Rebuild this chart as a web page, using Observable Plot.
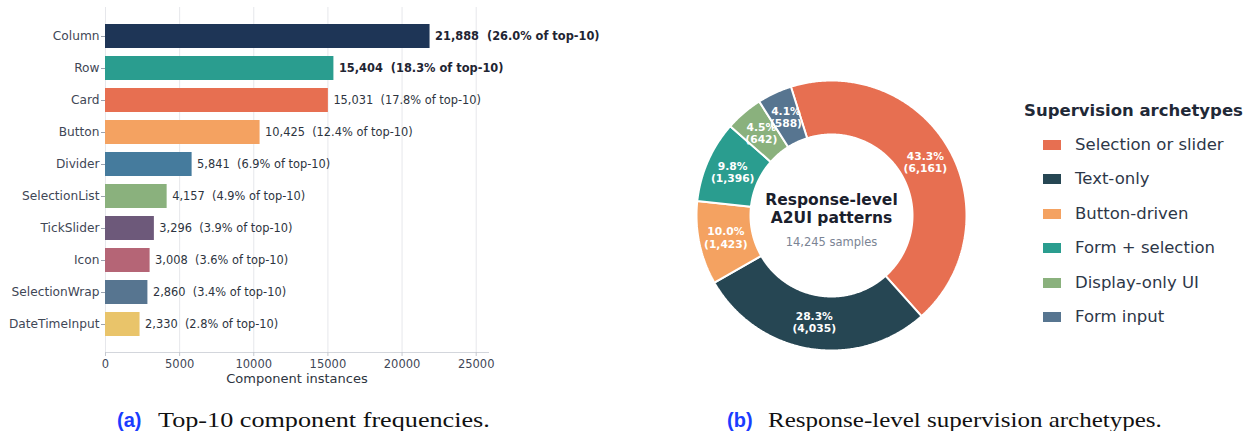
<!DOCTYPE html>
<html><head><meta charset="utf-8">
<script src="https://cdn.jsdelivr.net/npm/d3@7"></script>
<script src="https://cdn.jsdelivr.net/npm/@observablehq/plot@0.6"></script>
<style>
body{margin:0;background:#fff;}
#root{position:relative;width:1246px;height:431px;overflow:hidden;background:#fff;font-family:"DejaVu Sans",sans-serif;}
.abs{position:absolute;}
.legtitle{font-weight:bold;font-size:16.5px;color:#1f2937;white-space:nowrap;line-height:20px;}
.legitem{font-size:16.5px;color:#2d3748;white-space:nowrap;line-height:20px;}
.sw{position:absolute;width:18px;height:10px;}
.capl{font-family:"Liberation Sans",sans-serif;font-weight:bold;font-size:20px;color:#1a3cff;line-height:22px;white-space:nowrap;}
.capt{font-family:"Liberation Serif",serif;font-size:22px;color:#111;line-height:22px;white-space:nowrap;transform-origin:0 0;}
</style></head><body><div id="root"></div>
<script>
// ---- Data: (a) top-10 components ----
const components = ["Column","Row","Card","Button","Divider","SelectionList","TickSlider","Icon","SelectionWrap","DateTimeInput"];
const counts = [21888,15404,15031,10425,5841,4157,3296,3008,2860,2330];
const shares = [26.0,18.3,17.8,12.4,6.9,4.9,3.9,3.6,3.4,2.8];
const barColors = ["#1e3556","#2a9d8f","#e76f51","#f4a261","#457b9d","#8ab17d","#6d597a","#b56576","#577590","#e9c46a"];
const xTicks = [0,5000,10000,15000,20000,25000];
const boldCount = 2;

// ---- Data: (b) supervision archetypes ----
const archetypes = ["Selection or slider","Text-only","Button-driven","Form + selection","Display-only UI","Form input"];
const archCounts = [6161,4035,1423,1396,642,588];
const archShares = [43.3,28.3,10.0,9.8,4.5,4.1];
const archColors = ["#e76f51","#264653","#f4a261","#2a9d8f","#8ab17d","#577590"];
const centerTitle = "Response-level\nA2UI patterns";
const centerSub = "14,245 samples";
const legendTitle = "Supervision archetypes";
const captions = [["(a)","Top-10 component frequencies."],["(b)","Response-level supervision archetypes."]];

const root = document.getElementById("root");
const fmt = d3.format(",");

// ---------- (a) bar chart ----------
const rows = components.map((name,i)=>({name, count:counts[i], share:shares[i], bold:i<boldCount}));
const lab = d => `${fmt(d.count)} \u00a0(${d.share.toFixed(1)}% of top-10)`;
const bars = Plot.plot({
  width: 620, height: 392,
  marginLeft: 105, marginRight: 132, marginTop: 7, marginBottom: 40,
  style: {fontFamily: "DejaVu Sans", background: "transparent", overflow: "visible"},
  x: {domain: [0, 25830]},
  y: {domain: components, paddingInner: 0.25, paddingOuter: 0.48},
  color: {domain: components, range: barColors},
  marks: [
    Plot.gridX(xTicks, {stroke: "#e6e7eb", strokeOpacity: 1}),
    Plot.frame({anchor: "bottom", stroke: "#d3d6dc"}),
    Plot.barX(rows, {x: "count", y: "name", fill: "name"}),
    Plot.text(rows.filter(d=>!d.bold), {x:"count", y:"name", text: lab, textAnchor:"start", dx:5, fontSize:11.4, fill:"#2d3440"}),
    Plot.text(rows.filter(d=>d.bold), {x:"count", y:"name", text: lab, textAnchor:"start", dx:5, fontSize:11.4, fontWeight:"bold", fill:"#1f2533"}),
    Plot.axisY({tickSize: 4, tickPadding: 2, fontSize: 12.2, stroke: "#9ca3af", fill: "#3f4756", label: null}),
    Plot.axisX({ticks: xTicks, tickFormat: d=>String(d), tickSize: 4, tickPadding: 3, fontSize: 11.5, stroke: "#c5c9d0", fill: "#3f4756", label: null}),
    Plot.axisX({ticks: [], tickSize: 0, fontSize: 13, fill: "#2d3440", label: "Component instances", labelAnchor: "center", labelOffset: 30, labelArrow: "none"})
  ]
});
bars.classList.add("abs");
bars.style.left = "0px"; bars.style.top = "0px";
root.appendChild(bars);

// ---------- (b) donut ----------
const slices = archetypes.map((name,i)=>({name, count:archCounts[i], share:archShares[i]}));
const inner = 0.6, rot = -17.5*Math.PI/180, labR = 0.8;
const arcs = d3.pie().sort(null).value(d=>d.count).startAngle(rot).endAngle(rot+2*Math.PI)(slices);
const pts = [];
for (const a of arcs) {
  const n = Math.max(2, Math.ceil((a.endAngle-a.startAngle)/(Math.PI/360)));
  const ring = [];
  for (let k=0;k<=n;k++){const t=a.startAngle+(a.endAngle-a.startAngle)*k/n; ring.push([Math.sin(t),Math.cos(t)]);}
  for (let k=n;k>=0;k--){const t=a.startAngle+(a.endAngle-a.startAngle)*k/n; ring.push([inner*Math.sin(t),inner*Math.cos(t)]);}
  ring.push(ring[0]);
  for (const [x,y] of ring) pts.push({name:a.data.name, x, y});
}
const labels = arcs.map(a=>{const m=(a.startAngle+a.endAngle)/2; return {x:labR*Math.sin(m), y:labR*Math.cos(m), text:`${a.data.share.toFixed(1)}%\n(${fmt(a.data.count)})`};});
const S = 324;
const donut = Plot.plot({
  width: S, height: S, margin: 0,
  style: {fontFamily: "DejaVu Sans", background: "transparent", overflow: "visible"},
  x: {domain: [-1.2, 1.2], axis: null},
  y: {domain: [-1.2, 1.2], axis: null},
  color: {domain: archetypes, range: archColors},
  marks: [
    Plot.line(pts, {x:"x", y:"y", z:"name", fill:"name", stroke:"white", strokeWidth:2, strokeLinejoin:"miter", curve:"linear"}),
    Plot.text(labels, {x:"x", y:"y", text:"text", fill:"white", fontWeight:"bold", fontSize:10.7, lineHeight:1.13}),
    Plot.text([centerTitle], {frameAnchor:"middle", dy:-7.6, fontSize:15.5, fontWeight:"bold", fill:"#1a202c", lineHeight:1.2}),
    Plot.text([centerSub], {frameAnchor:"middle", dy:26.7, fontSize:11.5, fill:"#7b8494"})
  ]
});
donut.classList.add("abs");
donut.style.left = (831 - S/2) + "px"; donut.style.top = (215 - S/2) + "px";
root.appendChild(donut);

// ---------- legend ----------
const lt = document.createElement("div");
lt.className = "abs legtitle"; lt.textContent = legendTitle;
lt.style.left = "1024px"; lt.style.top = (111-10) + "px";
root.appendChild(lt);
archetypes.forEach((name,i)=>{
  const cy = 145 + 34.4*i;
  const sw = document.createElement("div");
  sw.className = "sw"; sw.style.background = archColors[i];
  sw.style.left = "1043px"; sw.style.top = (cy-5) + "px";
  root.appendChild(sw);
  const t = document.createElement("div");
  t.className = "abs legitem"; t.textContent = name;
  t.style.left = "1075px"; t.style.top = (cy-10) + "px";
  root.appendChild(t);
});

// ---------- captions ----------
const capPos = [[117,158,1.19],[727,768,1.137]];
captions.forEach(([l,t],i)=>{
  const a = document.createElement("div");
  a.className = "abs capl"; a.textContent = l;
  a.style.left = capPos[i][0] + "px"; a.style.top = "409px";
  root.appendChild(a);
  const b = document.createElement("div");
  b.className = "abs capt"; b.textContent = t;
  b.style.left = capPos[i][1] + "px"; b.style.top = "408.6px";
  b.style.transform = `scaleX(${capPos[i][2]})`;
  root.appendChild(b);
});
</script>
</body></html>
